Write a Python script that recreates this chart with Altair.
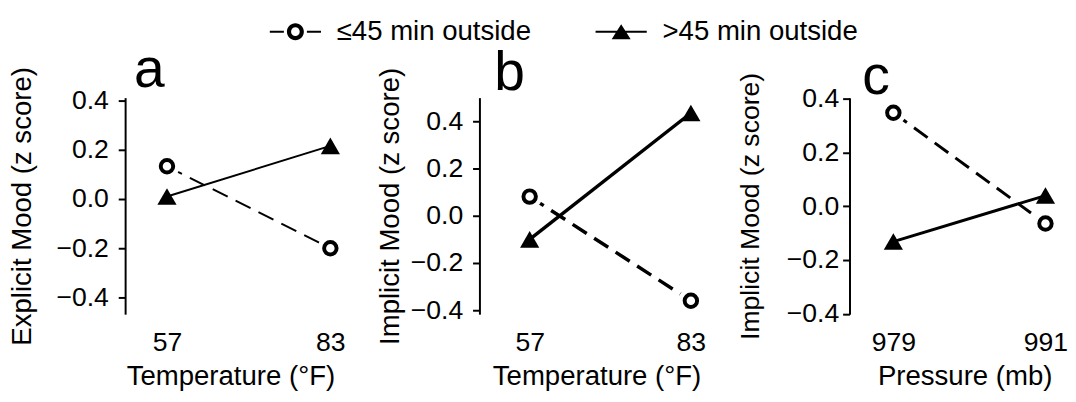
import altair as alt
import pandas as pd

FONT = "Liberation Sans"

groups = ["≤45 min outside", ">45 min outside"]
temperature = [57, 83]
pressure = [979, 991]
explicit_le45 = [0.133, -0.200]
explicit_gt45 = [0.010, 0.216]
implicit_t_le45 = [0.081, -0.360]
implicit_t_gt45 = [-0.100, 0.435]
implicit_p_le45 = [0.348, -0.064]
implicit_p_gt45 = [-0.131, 0.040]
y_ticks = [-0.4, -0.2, 0.0, 0.2, 0.4]

# legend glyphs: line segment(s) with the marker, drawn as filled shapes
LE_PATH = ("M-1.238,-0.045L-0.557,-0.045L-0.557,0.045L-1.238,0.045Z "
           "M0.557,-0.045L1.238,-0.045L1.238,0.045L0.557,0.045Z "
           "M0.41,0A0.41 0.41 0 1 1 -0.41,0A0.41 0.41 0 1 1 0.41,0Z "
           "M0.21,0A0.21 0.21 0 1 0 -0.21,0A0.21 0.21 0 1 0 0.21,0Z")
GT_PATH = ("M-1.238,-0.05L1.238,-0.05L1.238,0.05L-1.238,0.05Z "
           "M0,-0.36L0.46,0.37L-0.46,0.37Z")


def frame(xs, le, gt):
    rows = []
    for x, v in zip(xs, le):
        rows.append({"x": x, "y": v, "group": groups[0]})
    for x, v in zip(xs, gt):
        rows.append({"x": x, "y": v, "group": groups[1]})
    return pd.DataFrame(rows)


def panel(df, letter, xdom, ydom, xvals, xtitle, ytitle, width, lw,
          title_dx, title_offset, ytitle_size, label_pad, title_pad,
          xtitle_x, legend=False):
    x = alt.X("x:Q", scale=alt.Scale(domain=xdom, nice=False, zero=False),
              axis=alt.Axis(values=xvals, format="d", title=xtitle, domain=False,
                            ticks=False, grid=False, labelPadding=16,
                            titlePadding=7, labelFontSize=27,
                            titleFontSize=28, titleX=xtitle_x))
    y = alt.Y("y:Q", scale=alt.Scale(domain=ydom, nice=False, zero=False),
              axis=alt.Axis(values=y_ticks, format=".1f", title=ytitle,
                            grid=False, tickSize=7, tickWidth=2,
                            domainWidth=2, labelPadding=label_pad,
                            titlePadding=title_pad, labelFontSize=27,
                            titleFontSize=ytitle_size))
    base = alt.Chart(df).encode(x=x, y=y)
    le = base.transform_filter(alt.FieldEqualPredicate(field="group", equal=groups[0]))
    gt = base.transform_filter(alt.FieldEqualPredicate(field="group", equal=groups[1]))
    line_le = le.mark_line(color="black", strokeWidth=lw, strokeDash=[17, 9], clip=False)
    line_gt = gt.mark_line(color="black", strokeWidth=lw, clip=False)
    halo = le.mark_point(shape="circle", filled=True, color="white", size=650,
                         opacity=1, clip=False)
    circles = le.mark_point(shape="circle", filled=False, color="black",
                            strokeWidth=4, size=160, opacity=1, clip=False)
    tris = gt.mark_point(shape="triangle-up", filled=True, color="black",
                         size=380, opacity=1, clip=False)
    layers = [line_le, line_gt]
    if legend:
        leg = base.mark_point(filled=True, color="black", size=0.5).encode(
            shape=alt.Shape("group:N",
                            scale=alt.Scale(domain=groups, range=[LE_PATH, GT_PATH]),
                            legend=alt.Legend(title=" ", titleOrient="left",
                                              titleFontSize=1, titlePadding=152,
                                              orient="top", direction="horizontal",
                                              offset=-3,
                                              symbolSize=1764, symbolOpacity=1,
                                              symbolFillColor="black",
                                              symbolStrokeWidth=0,
                                              labelFont=FONT, labelFontSize=28,
                                              labelColor="black", labelOffset=21,
                                              labelLimit=500,
                                              columnPadding=65)))
        layers.append(leg)
    layers += [halo, circles, tris]
    return alt.layer(*layers).properties(
        width=width, height=220,
        title=alt.TitleParams(text=letter, anchor="start", frame="group",
                              fontSize=56, font=FONT, fontWeight="normal",
                              color="black", dx=title_dx, offset=title_offset))


pa = panel(frame(temperature, explicit_le45, explicit_gt45), "a",
           [50.34, 90.28], [-0.468, 0.412], temperature, "Temperature (°F)",
           "Explicit Mood (z score)", 255, 2, 9, -33, 28, 10, 20, 107,
           legend=True)
pb = panel(frame(temperature, implicit_t_le45, implicit_t_gt45), "b",
           [48.9, 90.33], [-0.417, 0.5], temperature, "Temperature (°F)",
           "Implicit Mood (z score)", 261, 3.5, 15, -35, 28, 10, 6, 119)
pc = panel(frame(pressure, implicit_p_le45, implicit_p_gt45), "c",
           [975.54, 992.39], [-0.401, 0.404], pressure, "Pressure (mb)",
           "Implicit Mood (z score)", 217, 3, 13, -34, 27, 4, 22, 117)

chart = alt.hconcat(pa, pb, pc, spacing=0).properties(padding=0).configure(
    font=FONT
).configure_axis(
    labelFont=FONT, titleFont=FONT, labelColor="black", titleColor="black",
    domainColor="black", tickColor="black", titleFontWeight="normal"
).configure_view(stroke=None)

chart.save("out.html", embed_options={"renderer": "svg", "actions": False})
